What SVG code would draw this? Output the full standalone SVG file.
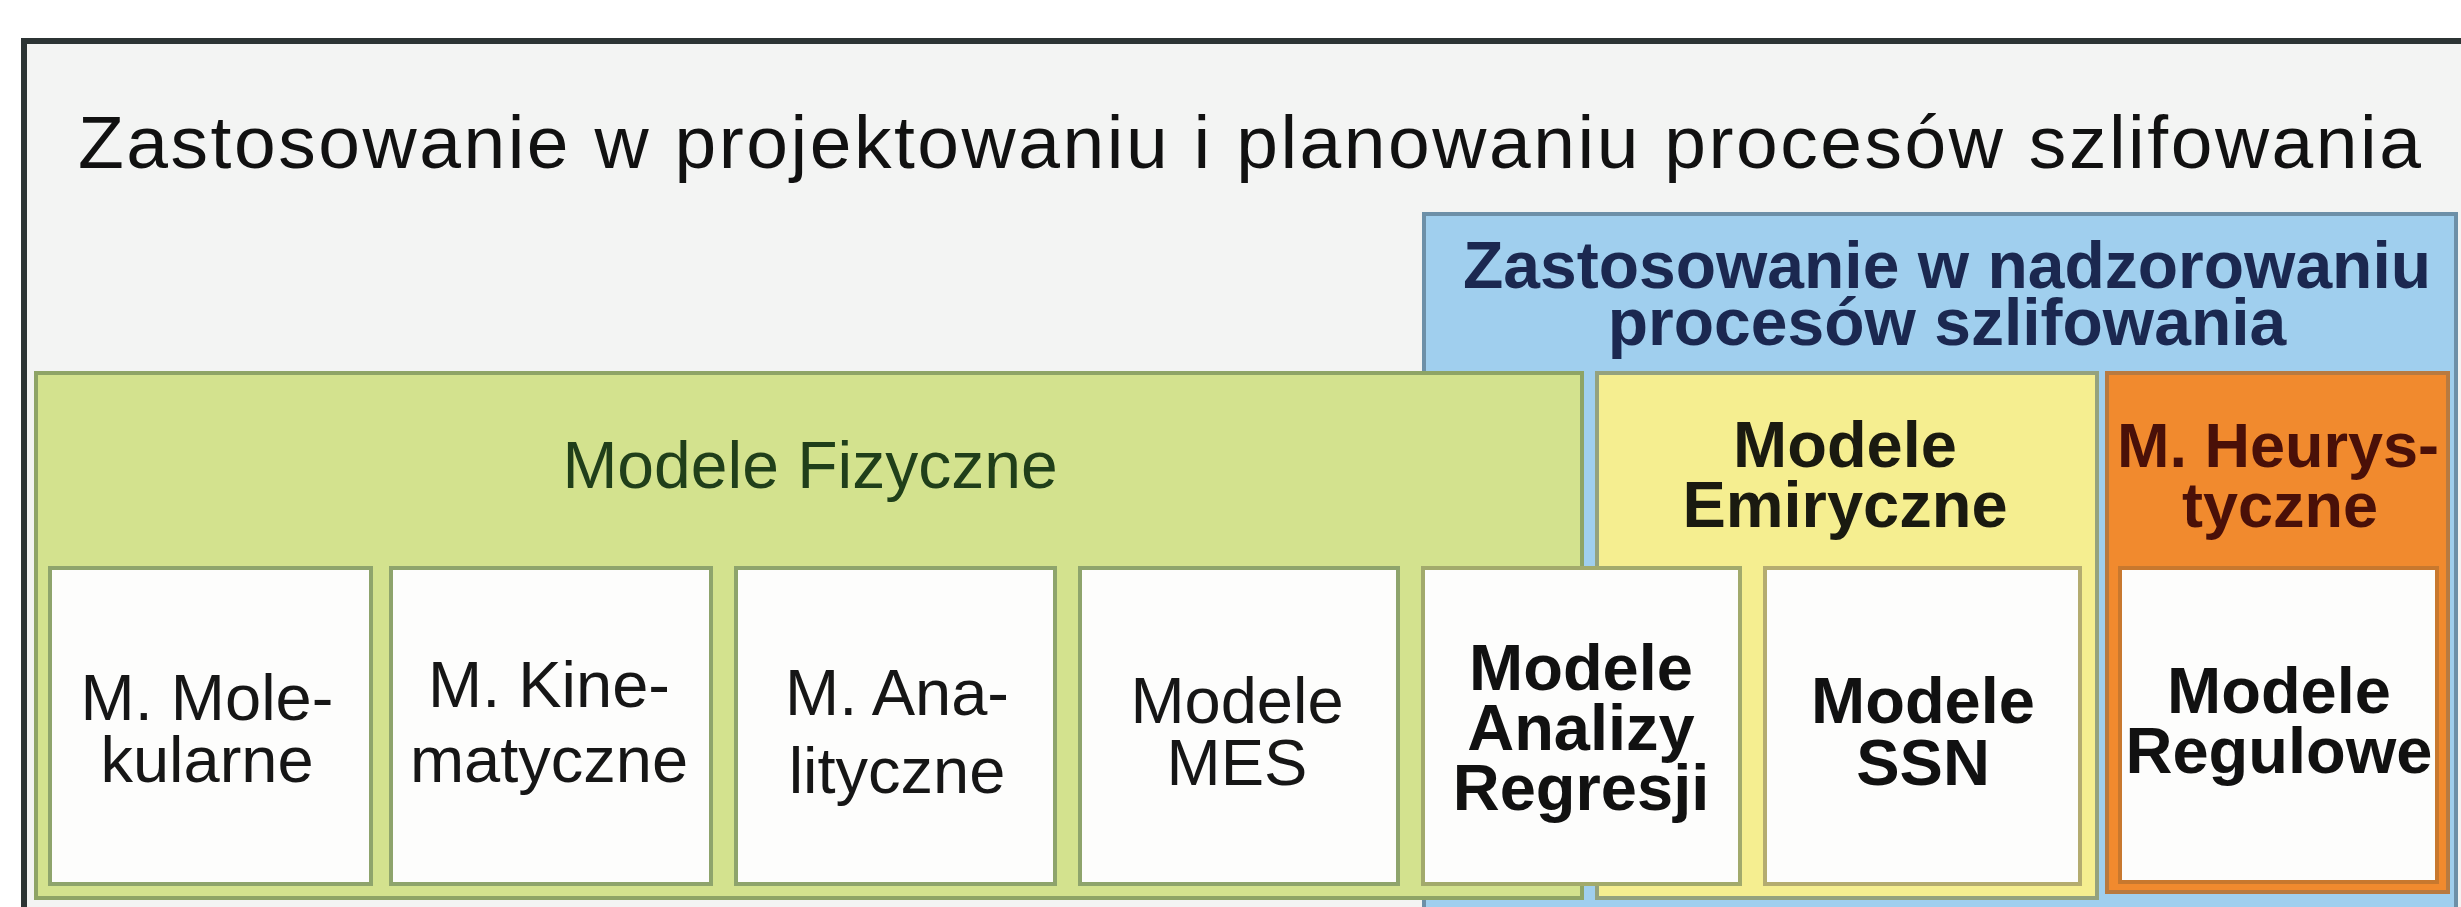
<svg xmlns="http://www.w3.org/2000/svg" width="2461" height="907" viewBox="0 0 2461 907">
<style>
.t{font-family:"Liberation Sans",Arial,sans-serif;text-anchor:middle}
.r{font-size:65px;fill:#161616}
.b{font-size:65px;font-weight:bold;fill:#111111}
.box{fill:#fdfdfc;stroke-width:4}
</style>
<rect x="0" y="0" width="2461" height="907" fill="#ffffff"/>
<g id="frame">
<rect x="24" y="41" width="2500" height="900" fill="#f3f4f3" stroke="#2c3434" stroke-width="6"/>
<text x="78" y="168" font-family="Liberation Sans, Arial, sans-serif" font-size="75" fill="#111111" textLength="2343">Zastosowanie w projektowaniu i planowaniu procesów szlifowania</text>
</g>
<g id="nadzorowanie">
<rect x="1424" y="214" width="1032" height="720" fill="#a0cfee" stroke="#6d90a8" stroke-width="4"/>
<text class="t" x="1947" y="288" font-size="66" font-weight="bold" fill="#1b2850">Zastosowanie w nadzorowaniu</text>
<text class="t" x="1947" y="345" font-size="66" font-weight="bold" fill="#1b2850">procesów szlifowania</text>
</g>
<g id="fizyczne">
<rect x="36" y="373" width="1546" height="525" fill="#d3e28e" stroke="#8ea466" stroke-width="4"/>
<text class="t" x="810" y="488" font-size="66" fill="#203f1a">Modele Fizyczne</text>
</g>
<g id="empiryczne">
<rect x="1597" y="373" width="500" height="525" fill="#f5ee90" stroke="#94a27e" stroke-width="4"/>
<text class="t" x="1845" y="467" font-size="65" font-weight="bold" fill="#1a1a10">Modele</text>
<text class="t" x="1845" y="527" font-size="65" font-weight="bold" fill="#1a1a10">Emiryczne</text>
</g>
<g id="heurystyczne">
<rect x="2107" y="373" width="341" height="519" fill="#f18a2e" stroke="#b87a40" stroke-width="4"/>
<text class="t" x="2278" y="467" font-size="63" font-weight="bold" fill="#4a1008">M. Heurys-</text>
<text class="t" x="2280" y="527" font-size="63" font-weight="bold" fill="#4a1008">tyczne</text>
</g>
<g id="molekularne">
<rect class="box" x="50" y="568" width="321" height="316" stroke="#8ea46c"/>
<text class="t r" x="207" y="720">M. Mole-</text>
<text class="t r" x="207" y="782">kularne</text>
</g>
<g id="kinematyczne">
<rect class="box" x="391" y="568" width="320" height="316" stroke="#8ea46c"/>
<text class="t r" x="549" y="707">M. Kine-</text>
<text class="t r" x="549" y="782">matyczne</text>
</g>
<g id="analityczne">
<rect class="box" x="736" y="568" width="319" height="316" stroke="#8ea46c"/>
<text class="t r" x="897" y="715">M. Ana-</text>
<text class="t r" x="897" y="793">lityczne</text>
</g>
<g id="mes">
<rect class="box" x="1080" y="568" width="318" height="316" stroke="#8ea46c"/>
<text class="t r" x="1237" y="723">Modele</text>
<text class="t r" x="1237" y="785">MES</text>
</g>
<g id="regresja">
<rect class="box" x="1423" y="568" width="317" height="316" stroke="#a2aa6c"/>
<text class="t b" x="1581" y="690">Modele</text>
<text class="t b" x="1581" y="750">Analizy</text>
<text class="t b" x="1581" y="810">Regresji</text>
</g>
<g id="ssn">
<rect class="box" x="1765" y="568" width="315" height="316" stroke="#b4ac70"/>
<text class="t b" x="1923" y="723">Modele</text>
<text class="t b" x="1923" y="785">SSN</text>
</g>
<g id="regulowe">
<rect class="box" x="2120" y="568" width="317" height="314" stroke="#c8782e"/>
<text class="t b" x="2279" y="713">Modele</text>
<text class="t b" x="2279" y="773">Regulowe</text>
</g>
<g id="connectors"></g>
</svg>
